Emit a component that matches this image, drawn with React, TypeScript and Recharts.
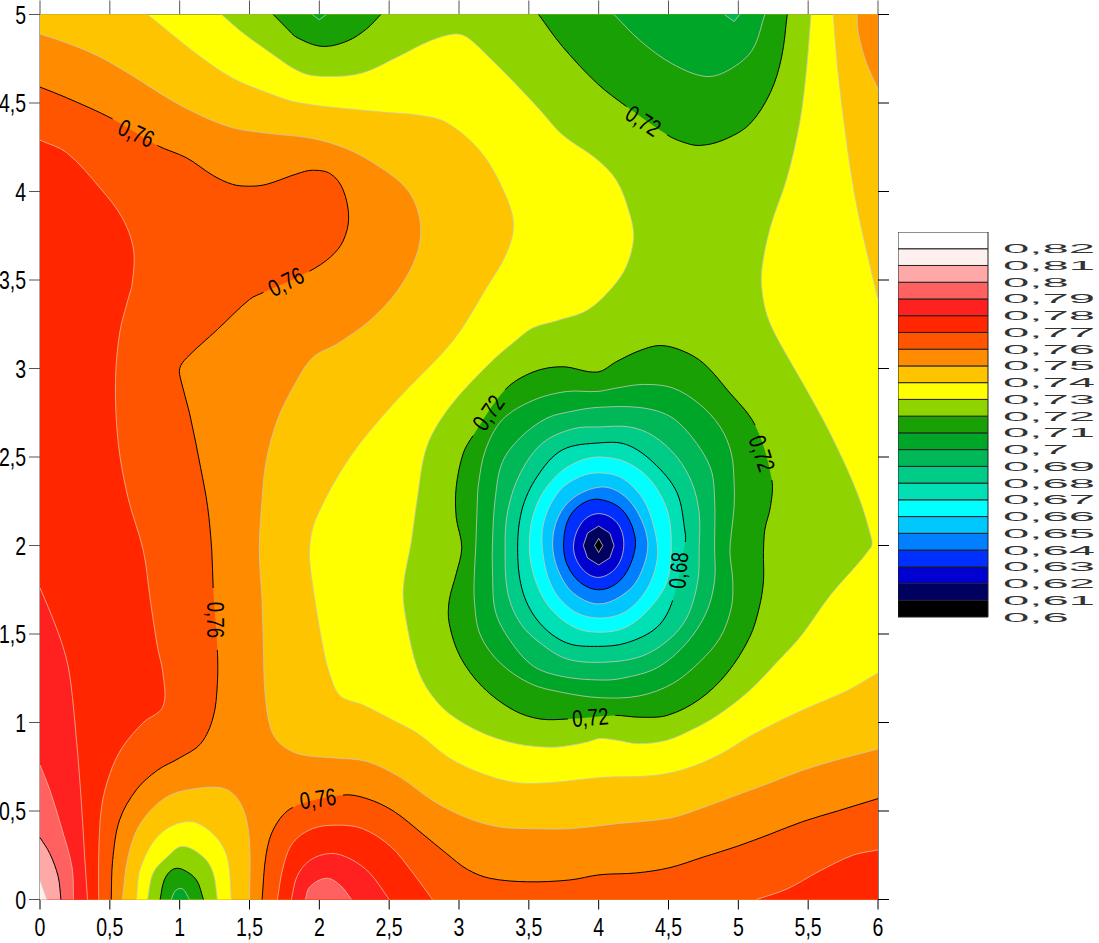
import React from 'react'
import { BarChart, Bar, ScatterChart, Scatter, XAxis, YAxis } from 'recharts'

type Pt = number[] // x, y and an optional 1 when the isoline breaks after this point for a label

const xTicks = [0, 0.5, 1, 1.5, 2, 2.5, 3, 3.5, 4, 4.5, 5, 5.5, 6]
const yTicks = [0, 0.5, 1, 1.5, 2, 2.5, 3, 3.5, 4, 4.5, 5]

// colour scale, low to high, one band per 0.01 starting at 0.6
const levels = [0.6, 0.61, 0.62, 0.63, 0.64, 0.65, 0.66, 0.67, 0.68, 0.69, 0.7, 0.71, 0.72, 0.73, 0.74, 0.75, 0.76, 0.77, 0.78, 0.79, 0.8, 0.81, 0.82]
const bandColors = ['#000000', '#000060', '#0000D0', '#0030FF', '#0080FF', '#00C8FF', '#00FFFF', '#00E0B4', '#00CC88', '#00B858', '#00A628', '#19A005', '#8FD400', '#FFFF00', '#FFC400', '#FF8C00', '#FF5500', '#FF2600', '#FF2020', '#FF6060', '#FFA8A8', '#FFF0F0', '#FFFFFF']

// contour labels
const labelX = [0.69, 1.76, 1.26, 1.99, 4.32, 3.21, 5.17, 3.94, 4.57]
const labelY = [4.33, 3.49, 1.58, 0.57, 4.4, 2.75, 2.52, 1.03, 1.86]
const labelText = ['0,76', '0,76', '0,76', '0,76', '0,72', '0,72', '0,72', '0,72', '0,68']
const labelAngle = [24, -27, 90, -8, 33, -55, 72, -4, -85]

// isolines, in data units
const whole: Pt[] = [[0, 5], [0, 0]]
const above74: Pt[] = [[0.77, 5], [0.91, 4.91], [1.15, 4.76], [1.38, 4.64], [1.62, 4.56], [1.86, 4.5], [2.43, 4.45], [2.72, 4.43], [2.91, 4.39], [3.15, 4.23], [3.31, 4.02], [3.39, 3.82], [3.34, 3.65], [3.2, 3.46], [2.96, 3.16], [2.53, 2.8], [2.22, 2.5], [1.98, 2.16], [1.93, 1.98], [1.95, 1.79], [2.03, 1.41], [2.08, 1.26], [2.15, 1.15], [2.31, 1.1], [2.51, 1.02], [2.7, 0.94], [2.93, 0.8], [3.17, 0.71], [3.41, 0.66], [3.65, 0.66], [4.03, 0.69], [4.39, 0.7], [4.63, 0.74], [4.87, 0.82], [5.1, 0.93], [5.46, 1.07], [5.78, 1.18], [6, 1.28]]
const above74Corner: Pt[] = [[5.68, 5], [5.71, 4.7], [5.78, 4.25], [5.85, 3.91], [5.94, 3.59], [6, 3.39]]
const above75: Pt[] = [[0, 4.89], [0.19, 4.84], [0.43, 4.76], [0.67, 4.65], [0.91, 4.53], [1.15, 4.43], [1.38, 4.36], [1.62, 4.33], [1.95, 4.3], [2.2, 4.24], [2.43, 4.14], [2.63, 4.01], [2.72, 3.84], [2.7, 3.65], [2.56, 3.44], [2.36, 3.27], [2.13, 3.14], [1.95, 3.06], [1.81, 2.89], [1.7, 2.71], [1.62, 2.48], [1.59, 2.26], [1.57, 1.97], [1.59, 1.69], [1.6, 1.41], [1.61, 1.18], [1.65, 0.97], [1.72, 0.88], [1.86, 0.82], [2.1, 0.8], [2.34, 0.78], [2.58, 0.69], [2.81, 0.56], [3.06, 0.46], [3.29, 0.41], [3.53, 0.4], [3.79, 0.4], [4.15, 0.43], [4.51, 0.46], [4.75, 0.52], [4.99, 0.59], [5.23, 0.66], [5.46, 0.73], [5.71, 0.79], [6, 0.85]]
const above75Corner: Pt[] = [[5.85, 5], [5.86, 4.89], [5.92, 4.72], [6, 4.58]]
const above76Left: Pt[] = [[0, 4.59], [0.19, 4.53], [0.52, 4.41, 1], [0.84, 4.26], [1.05, 4.19], [1.24, 4.09], [1.38, 4.04], [1.5, 4.03], [1.62, 4.04], [1.84, 4.1], [1.95, 4.12], [2.08, 4.1], [2.17, 4.01], [2.21, 3.85], [2.17, 3.72], [2.08, 3.63], [1.93, 3.55, 1], [1.6, 3.43], [1.5, 3.39], [1.27, 3.22], [1.05, 3.06], [1, 3], [1.01, 2.93], [1.07, 2.75], [1.15, 2.44], [1.2, 2.22], [1.23, 1.97], [1.24, 1.76, 1], [1.27, 1.41], [1.27, 1.22], [1.24, 1.03], [1.15, 0.88], [1, 0.8], [0.84, 0.73], [0.69, 0.62], [0.57, 0.45], [0.52, 0.22], [0.51, 0]]
const above76Low: Pt[] = [[1.59, 0], [1.62, 0.26], [1.68, 0.41], [1.81, 0.52, 1], [2.17, 0.59], [2.34, 0.57], [2.53, 0.5], [2.74, 0.37], [2.91, 0.26], [3.06, 0.17], [3.22, 0.12], [3.49, 0.1], [3.79, 0.11], [4.01, 0.14], [4.27, 0.15], [4.51, 0.18], [4.75, 0.24], [4.99, 0.3], [5.23, 0.37], [5.46, 0.44], [5.71, 0.5], [6, 0.57]]
const above77Left: Pt[] = [[0, 4.29], [0.19, 4.22], [0.43, 4.02], [0.59, 3.85], [0.67, 3.67], [0.66, 3.48], [0.63, 3.39], [0.57, 3.2], [0.54, 2.92], [0.56, 2.58], [0.63, 2.27], [0.74, 1.97], [0.79, 1.69], [0.84, 1.43], [0.88, 1.28], [0.88, 1.09], [0.74, 1], [0.59, 0.86], [0.5, 0.71], [0.44, 0.52], [0.42, 0.24], [0.42, 0]]
const above77Low: Pt[] = [[1.7, 0], [1.74, 0.18], [1.81, 0.32], [1.95, 0.4], [2.13, 0.42], [2.31, 0.4], [2.51, 0.3], [2.67, 0.15], [2.81, 0]]
const above77Right: Pt[] = [[5.13, 0], [5.35, 0.06], [5.58, 0.16], [5.82, 0.25], [6, 0.28]]
const above78Left: Pt[] = [[0, 1.76], [0.07, 1.63], [0.16, 1.44], [0.21, 1.28], [0.25, 1], [0.29, 0.62], [0.32, 0.24], [0.34, 0]]
const above78Low: Pt[] = [[1.8, 0], [1.84, 0.13], [1.93, 0.22], [2.08, 0.26], [2.22, 0.23], [2.36, 0.15], [2.5, 0]]
const above79Left: Pt[] = [[0, 0.76], [0.07, 0.62], [0.16, 0.39], [0.23, 0.18], [0.24, 0]]
const above79Low: Pt[] = [[1.9, 0], [1.93, 0.07], [2.05, 0.12], [2.15, 0.08], [2.23, 0]]
const above80: Pt[] = [[0, 0.35], [0.07, 0.26], [0.13, 0.13], [0.15, 0]]
const above81: Pt[] = [[0, 0.11], [0.05, 0]]

const islandBelow75: Pt[] = [[0.59, 0], [0.63, 0.24], [0.72, 0.43], [0.91, 0.58], [1.15, 0.63], [1.34, 0.62], [1.45, 0.52], [1.5, 0.33], [1.5, 0]]
const islandBelow74: Pt[] = [[0.69, 0], [0.72, 0.18], [0.86, 0.37], [1.07, 0.44], [1.24, 0.37], [1.34, 0.24], [1.37, 0]]
const islandBelow73: Pt[] = [[0.77, 0], [0.81, 0.15], [0.91, 0.24], [1.02, 0.3], [1.17, 0.24], [1.24, 0.15], [1.27, 0]]
const islandBelow72: Pt[] = [[0.86, 0], [0.89, 0.11], [0.95, 0.17], [1.02, 0.17], [1.12, 0.11], [1.17, 0]]
const islandBelow71: Pt[] = [[0.94, 0], [0.97, 0.05], [1.02, 0.06], [1.07, 0]]

const below73: Pt[] = [[1.3, 5], [1.43, 4.91], [1.62, 4.8], [1.88, 4.67], [2.08, 4.65], [2.31, 4.67], [2.56, 4.76], [2.79, 4.85], [2.97, 4.89], [3.06, 4.87], [3.2, 4.77], [3.39, 4.62], [3.58, 4.46], [3.74, 4.32], [3.99, 4.18], [4.13, 4.06], [4.22, 3.88], [4.25, 3.74], [4.2, 3.58], [4.1, 3.46], [3.92, 3.33], [3.7, 3.27], [3.53, 3.23], [3.41, 3.16], [3.22, 3.03], [2.93, 2.78], [2.77, 2.56], [2.7, 2.26], [2.66, 2.03], [2.6, 1.75], [2.63, 1.54], [2.7, 1.31], [2.79, 1.17], [2.93, 1.05], [3.17, 0.94], [3.41, 0.88], [3.65, 0.86], [3.79, 0.87], [3.92, 0.89], [4.01, 0.91], [4.13, 0.9], [4.29, 0.88], [4.49, 0.9], [4.67, 0.96], [4.85, 1.04], [5.08, 1.18], [5.3, 1.36], [5.45, 1.49], [5.66, 1.72], [5.95, 1.99], [5.95, 2.05], [5.85, 2.3], [5.66, 2.63], [5.46, 2.92], [5.3, 3.14], [5.21, 3.29], [5.17, 3.44], [5.17, 3.57], [5.23, 3.8], [5.35, 4.08], [5.44, 4.39], [5.49, 4.7], [5.52, 5]]
const below72: Pt[] = [[3.99, 2.98], [4.13, 3.04], [4.29, 3.1], [4.44, 3.13], [4.6, 3.1], [4.75, 3.03], [4.92, 2.88], [5.12, 2.68, 1], [5.24, 2.37], [5.23, 2.22], [5.19, 2.09], [5.18, 1.96], [5.18, 1.8], [5.15, 1.65], [5.08, 1.48], [4.92, 1.28], [4.72, 1.13], [4.49, 1.04], [4.29, 1.03], [4.12, 1.04, 1], [3.78, 1.02], [3.58, 1.02], [3.39, 1.07], [3.17, 1.2], [3.01, 1.37], [2.93, 1.56], [2.93, 1.69], [2.98, 1.84], [3.02, 1.99], [2.98, 2.16], [2.98, 2.33], [3.03, 2.52], [3.1, 2.62, 1], [3.33, 2.88], [3.53, 2.98], [3.74, 3.01]]
const below72Top: Pt[] = [[1.67, 5], [1.77, 4.92], [1.84, 4.87], [2.02, 4.82], [2.2, 4.85], [2.34, 4.92], [2.44, 5]]
const below72TopRight: Pt[] = [[3.57, 5], [3.74, 4.82], [3.99, 4.61], [4.2, 4.48, 1], [4.49, 4.32], [4.6, 4.28], [4.72, 4.26], [4.89, 4.29], [5.08, 4.38], [5.23, 4.56], [5.31, 4.76], [5.35, 5]]
const below71: Pt[] = [[3.99, 2.87], [4.13, 2.89], [4.32, 2.91], [4.53, 2.89], [4.72, 2.8], [4.87, 2.67], [4.95, 2.52], [4.97, 2.35], [4.97, 2.22], [4.95, 2.07], [4.94, 1.96], [4.96, 1.8], [4.95, 1.65], [4.87, 1.48], [4.72, 1.34], [4.53, 1.22], [4.29, 1.15], [4.01, 1.14], [3.74, 1.17], [3.51, 1.22], [3.29, 1.34], [3.15, 1.5], [3.11, 1.69], [3.11, 1.84], [3.12, 1.99], [3.13, 2.22], [3.14, 2.35], [3.19, 2.54], [3.31, 2.71], [3.53, 2.82], [3.77, 2.87]]
const below71Top: Pt[] = [[1.95, 5], [2, 4.97], [2.05, 5]]
const below71TopRight: Pt[] = [[4.11, 5], [4.3, 4.85], [4.53, 4.72], [4.77, 4.65], [4.94, 4.69], [5.1, 4.8], [5.19, 5]]
const below70: Pt[] = [[3.99, 2.78], [4.29, 2.78], [4.51, 2.73], [4.67, 2.61], [4.8, 2.44], [4.83, 2.27], [4.83, 1.99], [4.83, 1.8], [4.77, 1.62], [4.63, 1.45], [4.42, 1.31], [4.17, 1.25], [4.01, 1.24], [3.74, 1.26], [3.53, 1.32], [3.36, 1.47], [3.26, 1.63], [3.24, 1.84], [3.24, 2.03], [3.26, 2.27], [3.31, 2.47], [3.44, 2.61], [3.63, 2.72], [3.82, 2.76]]
const below70Top: Pt[] = [[4.9, 5], [4.97, 4.96], [5.01, 5]]
const below69: Pt[] = [[4.01, 2.67], [4.22, 2.67], [4.39, 2.62], [4.56, 2.5], [4.67, 2.35], [4.72, 2.18], [4.72, 1.99], [4.71, 1.8], [4.63, 1.59], [4.49, 1.46], [4.29, 1.37], [4.01, 1.34], [3.77, 1.36], [3.58, 1.45], [3.44, 1.56], [3.35, 1.73], [3.33, 1.99], [3.35, 2.2], [3.44, 2.41], [3.6, 2.58], [3.82, 2.66]]
const below68: Pt[] = [[4.01, 2.58], [4.2, 2.57], [4.39, 2.47], [4.56, 2.3], [4.62, 2.07], [4.62, 2.02, 1], [4.53, 1.69], [4.42, 1.54], [4.2, 1.45], [3.99, 1.43], [3.77, 1.45], [3.58, 1.56], [3.46, 1.73], [3.42, 1.96], [3.45, 2.2], [3.56, 2.39], [3.74, 2.54]]
const below67: Pt[] = [[4.01, 2.5], [4.2, 2.47], [4.37, 2.37], [4.49, 2.2], [4.52, 2.01], [4.49, 1.8], [4.37, 1.65], [4.2, 1.54], [4.01, 1.51], [3.82, 1.54], [3.63, 1.67], [3.52, 1.88], [3.51, 2.09], [3.58, 2.27], [3.72, 2.41], [3.87, 2.48]]
const below66: Pt[] = [[4.01, 2.41], [4.17, 2.38], [4.32, 2.26], [4.4, 2.09], [4.42, 1.93], [4.35, 1.76], [4.2, 1.63], [4.01, 1.59], [3.82, 1.63], [3.67, 1.76], [3.6, 1.96], [3.61, 2.14], [3.72, 2.31], [3.87, 2.39]]
const below65: Pt[] = [[4.01, 2.33], [4.15, 2.3], [4.27, 2.2], [4.35, 2.03], [4.32, 1.88], [4.22, 1.75], [4.01, 1.67], [3.82, 1.73], [3.71, 1.86], [3.67, 2.01], [3.71, 2.16], [3.82, 2.27]]
const below64: Pt[] = [[4.01, 2.26], [4.17, 2.2], [4.26, 2.05], [4.24, 1.92], [4.15, 1.8], [4.01, 1.75], [3.87, 1.79], [3.77, 1.9], [3.75, 2.03], [3.79, 2.16], [3.89, 2.24]]
const below63: Pt[] = [[4, 2.18], [4.13, 2.13], [4.18, 2.01], [4.13, 1.88], [4, 1.82], [3.88, 1.87], [3.82, 1.99], [3.88, 2.13]]
const below62: Pt[] = [[4, 2.11], [4.08, 2.07], [4.11, 2], [4.08, 1.93], [4, 1.89], [3.92, 1.93], [3.89, 2], [3.92, 2.07]]
const below61: Pt[] = [[4, 2.04], [4.03, 2], [4, 1.96], [3.97, 2]]

const GREY = '#C8C8B8'
const PALE = '#F0B8A0'
const BLACK = '#000000'

// painted in this order, lowest layer first
const contours: { pts: Pt[]; fill: string; stroke?: string; rim?: Pt[]; closed?: boolean; sharp?: boolean }[] = [
  { pts: whole, fill: '#FFFF00', rim: [[6, 0], [6, 5]] },
  { pts: above74, fill: '#FFC400', stroke: GREY, rim: [[6, 0], [0, 0], [0, 5]] },
  { pts: above74Corner, fill: '#FFC400', stroke: GREY, rim: [[6, 5]] },
  { pts: above75, fill: '#FF8C00', stroke: GREY, rim: [[6, 0], [0, 0]] },
  { pts: above75Corner, fill: '#FF8C00', stroke: GREY, rim: [[6, 5]] },
  { pts: above76Left, fill: '#FF5500', stroke: BLACK, rim: [[0, 0]] },
  { pts: above76Low, fill: '#FF5500', stroke: BLACK, rim: [[6, 0]] },
  { pts: above77Left, fill: '#FF2600', stroke: PALE, rim: [[0, 0]] },
  { pts: above77Low, fill: '#FF2600', stroke: PALE },
  { pts: above77Right, fill: '#FF2600', stroke: PALE, rim: [[6, 0]] },
  { pts: above78Left, fill: '#FF2020', stroke: PALE, rim: [[0, 0]] },
  { pts: above78Low, fill: '#FF2020', stroke: PALE },
  { pts: above79Left, fill: '#FF6060', stroke: PALE, rim: [[0, 0]] },
  { pts: above79Low, fill: '#FF6060', stroke: PALE },
  { pts: above80, fill: '#FFA8A8', stroke: BLACK, rim: [[0, 0]] },
  { pts: above81, fill: '#FFF0F0', stroke: GREY, rim: [[0, 0]] },
  { pts: islandBelow75, fill: '#FFC400', stroke: GREY },
  { pts: islandBelow74, fill: '#FFFF00', stroke: GREY },
  { pts: islandBelow73, fill: '#8FD400', stroke: GREY },
  { pts: islandBelow72, fill: '#19A005', stroke: BLACK },
  { pts: islandBelow71, fill: '#00A628', stroke: GREY },
  { pts: below73, fill: '#8FD400', stroke: GREY },
  { pts: below72, fill: '#19A005', stroke: BLACK, closed: true },
  { pts: below72Top, fill: '#19A005', stroke: BLACK },
  { pts: below72TopRight, fill: '#19A005', stroke: BLACK },
  { pts: below71, fill: '#00A628', stroke: GREY, closed: true },
  { pts: below71Top, fill: '#00A628', stroke: GREY, sharp: true },
  { pts: below71TopRight, fill: '#00A628', stroke: GREY },
  { pts: below70, fill: '#00B858', stroke: GREY, closed: true },
  { pts: below70Top, fill: '#00B858', stroke: GREY, sharp: true },
  { pts: below69, fill: '#00CC88', stroke: GREY, closed: true },
  { pts: below68, fill: '#00E0B4', stroke: BLACK, closed: true },
  { pts: below67, fill: '#00FFFF', stroke: GREY, closed: true },
  { pts: below66, fill: '#00C8FF', stroke: GREY, closed: true },
  { pts: below65, fill: '#0080FF', stroke: GREY, closed: true },
  { pts: below64, fill: '#0030FF', stroke: BLACK, closed: true },
  { pts: below63, fill: '#0000D0', stroke: GREY, closed: true },
  { pts: below62, fill: '#000060', stroke: GREY, closed: true, sharp: true },
  { pts: below61, fill: '#000000', stroke: GREY, closed: true, sharp: true },
]

const FONT = '"Liberation Sans", Arial, sans-serif'
const comma = (v: number) => String(v).replace('.', ',')

// smooth segments through the screen points, handles scaled to each chord so uneven spacing stays round
function segments(p: { x: number; y: number }[], closed: boolean, sharp: boolean) {
  const n = p.length
  const out: string[] = []
  const at = (i: number) => (closed ? p[(i + n) % n] : p[Math.max(0, Math.min(n - 1, i))])
  const dir = (a: { x: number; y: number }, c: { x: number; y: number }) => {
    const len = Math.hypot(c.x - a.x, c.y - a.y) || 1
    return { x: (c.x - a.x) / len, y: (c.y - a.y) / len }
  }
  const last = closed ? n : n - 1
  for (let i = 0; i < last; i++) {
    const b = at(i)
    const c = at(i + 1)
    if (sharp) {
      out.push(`L${c.x},${c.y}`)
      continue
    }
    const t1 = dir(at(i - 1), c)
    const t2 = dir(b, at(i + 2))
    const h = Math.hypot(c.x - b.x, c.y - b.y) / 3
    out.push(`C${b.x + t1.x * h},${b.y + t1.y * h} ${c.x - t2.x * h},${c.y - t2.y * h} ${c.x},${c.y}`)
  }
  return out
}

function contourLine(c: (typeof contours)[number]) {
  return (props: any) => {
    const all = props.points as { x: number; y: number }[]
    const curve = all.slice(0, c.pts.length)
    const rim = all.slice(c.pts.length)
    const segs = segments(curve, !!c.closed, !!c.sharp)
    const start = `M${curve[0].x},${curve[0].y}`
    const area = start + segs.join('') + rim.map((r) => `L${r.x},${r.y}`).join('') + 'Z'
    let outline = start
    segs.forEach((s, i) => {
      if (c.pts[i][2]) {
        const next = curve[(i + 1) % curve.length]
        outline += `M${next.x},${next.y}`
      } else {
        outline += s
      }
    })
    return (
      <g>
        <path d={area} fill={c.fill} stroke="none" />
        {c.stroke && <path d={outline} fill="none" stroke={c.stroke} strokeWidth={c.stroke === BLACK ? 1 : 0.8} />}
      </g>
    )
  }
}

const labelData = labelX.map((x, i) => ({ x, y: labelY[i], text: labelText[i], angle: labelAngle[i] }))
const legendRow = [Object.fromEntries(levels.map((v, i) => [`band${i}`, 0.01]))]
const legendTicks = levels.map((_, i) => i / 100)

const noTick = () => <g />

export default function App() {
  return (
    <div style={{ position: 'absolute', left: 0, top: 0, width: 1099, height: 943 }}>
      <ScatterChart width={889} height={943} margin={{ top: 0, right: 0, bottom: 0, left: 0 }} style={{ position: 'absolute', left: 0, top: 0 }}>
        {contours.map((c, i) => (
          <Scatter
            key={i}
            data={[...c.pts, ...(c.rim || [])].map((p) => ({ x: p[0], y: p[1] }))}
            line={contourLine(c)}
            shape={() => <g />}
            isAnimationActive={false}
          />
        ))}
        <Scatter
          xAxisId="top"
          yAxisId="right"
          data={labelData}
          isAnimationActive={false}
          shape={(p: any) => (
            <text
              transform={`translate(${p.cx},${p.cy}) rotate(${p.angle ?? p.payload.angle}) translate(0,8.5) scale(0.78,1)`}
              textAnchor="middle"
              fontFamily={FONT}
              fontSize={24}
              fill="#000"
            >
              {p.text ?? p.payload.text}
            </text>
          )}
        />
        <XAxis
          type="number"
          dataKey="x"
          domain={[0, 6]}
          ticks={xTicks}
          height={43.5}
          tickSize={10}
          stroke="#000"
          interval={0}
          tick={(p: any) => (
            <text transform={`translate(${p.x},936) scale(0.78,1)`} textAnchor="middle" fontFamily={FONT} fontSize={25} fill="#000">
              {comma(p.payload.value)}
            </text>
          )}
        />
        <YAxis
          type="number"
          dataKey="y"
          domain={[0, 5]}
          ticks={yTicks}
          width={40}
          tickSize={11}
          stroke="#555"
          interval={0}
          tick={(p: any) => (
            <text transform={`translate(26,${p.y + 9}) scale(0.78,1)`} textAnchor="end" fontFamily={FONT} fontSize={25} fill="#000">
              {comma(p.payload.value)}
            </text>
          )}
        />
        <XAxis xAxisId="top" orientation="top" type="number" dataKey="x" domain={[0, 6]} ticks={xTicks} height={14.5} tickSize={14} stroke="#555" interval={0} tick={noTick} />
        <YAxis yAxisId="right" orientation="right" type="number" dataKey="y" domain={[0, 5]} ticks={yTicks} width={11} tickSize={11} stroke="#000" interval={0} tick={noTick} />
      </ScatterChart>
      <BarChart
        width={201}
        height={400}
        data={legendRow}
        margin={{ top: 0, right: 0, bottom: 15, left: 0 }}
        barCategoryGap={0}
        style={{ position: 'absolute', left: 898, top: 232 }}
      >
        <XAxis hide />
        <YAxis
          orientation="right"
          type="number"
          domain={[0, 0.23]}
          ticks={legendTicks}
          width={111}
          interval={0}
          axisLine={false}
          tickLine={false}
          tick={(p: any) => (
            <text transform={`translate(105,${p.y + 4.5}) scale(3.64,1)`} fontFamily={FONT} fontSize={13} fill="#333">
              {comma(levels[Math.round(p.payload.value * 100)])}
            </text>
          )}
        />
        {levels.map((_, i) => (
          <Bar key={i} dataKey={`band${i}`} stackId="scale" fill={bandColors[i]} stroke="#222" strokeWidth={1} isAnimationActive={false} />
        ))}
      </BarChart>
    </div>
  )
}
